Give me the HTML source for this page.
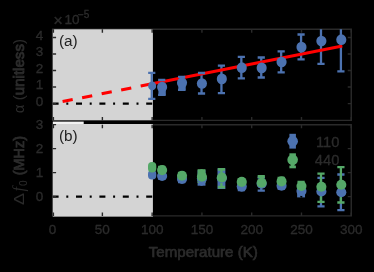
<!DOCTYPE html><html><head><meta charset="utf-8"><style>html,body{margin:0;padding:0;background:#000;overflow:hidden;}svg{display:block;font-family:"Liberation Sans",sans-serif;}</style></head><body>
<svg width="374" height="272" viewBox="0 0 374 272">
<rect width="374" height="272" fill="#000"/>
<defs><clipPath id="ca"><rect x="52.6" y="29.3" width="298.65000000000003" height="91.10000000000001"/></clipPath><clipPath id="cb"><rect x="52.6" y="124.7" width="298.65000000000003" height="91.2"/></clipPath></defs>
<path d="M52.6 29.3H351.25000000000006V120.4H52.6Z" stroke="#2a2a2a" stroke-width="1.4" fill="none"/>
<path d="M52.6 124.7H351.25000000000006V215.9H52.6Z" stroke="#2a2a2a" stroke-width="1.4" fill="none"/>
<rect x="52.8" y="29.3" width="100.1" height="90.85" fill="#d4d4d4"/>
<rect x="52.8" y="124.0" width="100.1" height="92.60" fill="#d4d4d4"/>
<rect x="52.8" y="121.6" width="30.90" height="2.4" fill="#f2f2f2"/>
<g clip-path="url(#ca)">
<path d="M52.6 103.6H351.25000000000006" stroke="#000" stroke-width="2.3" stroke-dasharray="6 7.7 2 7.7" fill="none"/>
<path d="M151.75 72.90V98.80" stroke="#4c72b0" stroke-width="2.3" fill="none"/>
<path d="M161.71 80.00V94.80" stroke="#4c72b0" stroke-width="2.3" fill="none"/>
<path d="M181.62 76.90V89.80" stroke="#4c72b0" stroke-width="2.3" fill="none"/>
<path d="M201.53 73.00V93.50" stroke="#4c72b0" stroke-width="2.3" fill="none"/>
<path d="M221.44 65.60V93.20" stroke="#4c72b0" stroke-width="2.3" fill="none"/>
<path d="M241.34 56.90V78.40" stroke="#4c72b0" stroke-width="2.3" fill="none"/>
<path d="M261.26 57.50V77.50" stroke="#4c72b0" stroke-width="2.3" fill="none"/>
<path d="M281.17 51.40V72.30" stroke="#4c72b0" stroke-width="2.3" fill="none"/>
<path d="M301.08 34.50V59.30" stroke="#4c72b0" stroke-width="2.3" fill="none"/>
<path d="M320.99 20.00V63.90" stroke="#4c72b0" stroke-width="2.3" fill="none"/>
<path d="M340.90 15.00V71.40" stroke="#4c72b0" stroke-width="2.3" fill="none"/>
<path d="M62.6 101.56L152.15 83.77" stroke="#ff0000" stroke-width="3" stroke-dasharray="10.3 9.6" fill="none"/>
<path d="M152.15 83.77L342.3 46.01" stroke="#ff0000" stroke-width="3" fill="none"/>
<path d="M148.15 72.90H155.35M148.15 98.80H155.35" stroke="#4c72b0" stroke-width="2.3" fill="none"/><ellipse cx="152.15" cy="85.90" rx="4.0" ry="4.3" fill="#4c72b0"/>
<path d="M158.11 80.00H165.31M158.11 94.80H165.31" stroke="#4c72b0" stroke-width="2.3" fill="none"/><ellipse cx="162.11" cy="87.00" rx="5.05" ry="5.35" fill="#4c72b0"/>
<rect x="158.41" y="87.00" width="7.4" height="8.70" fill="#4c72b0"/>
<path d="M178.02 76.90H185.22M178.02 89.80H185.22" stroke="#4c72b0" stroke-width="2.3" fill="none"/><ellipse cx="182.02" cy="82.70" rx="5.05" ry="5.35" fill="#4c72b0"/>
<rect x="178.32" y="82.70" width="7.4" height="8.00" fill="#4c72b0"/>
<path d="M197.93 73.00H205.12M197.93 93.50H205.12" stroke="#4c72b0" stroke-width="2.3" fill="none"/><ellipse cx="201.93" cy="83.50" rx="5.05" ry="5.35" fill="#4c72b0"/>
<path d="M217.84 65.60H225.03M217.84 93.20H225.03" stroke="#4c72b0" stroke-width="2.3" fill="none"/><ellipse cx="221.84" cy="78.90" rx="5.05" ry="5.35" fill="#4c72b0"/>
<path d="M237.75 56.90H244.94M237.75 78.40H244.94" stroke="#4c72b0" stroke-width="2.3" fill="none"/><ellipse cx="241.75" cy="67.70" rx="5.05" ry="5.35" fill="#4c72b0"/>
<path d="M257.66 57.50H264.86M257.66 77.50H264.86" stroke="#4c72b0" stroke-width="2.3" fill="none"/><ellipse cx="261.66" cy="67.90" rx="5.05" ry="5.35" fill="#4c72b0"/>
<path d="M277.56 51.40H284.77M277.56 72.30H284.77" stroke="#4c72b0" stroke-width="2.3" fill="none"/><ellipse cx="281.56" cy="62.00" rx="5.05" ry="5.35" fill="#4c72b0"/>
<path d="M297.48 34.50H304.68M297.48 59.30H304.68" stroke="#4c72b0" stroke-width="2.3" fill="none"/><ellipse cx="301.48" cy="47.10" rx="5.05" ry="5.35" fill="#4c72b0"/>
<path d="M317.39 20.00H324.59M317.39 63.90H324.59" stroke="#4c72b0" stroke-width="2.3" fill="none"/><ellipse cx="321.39" cy="41.00" rx="5.05" ry="5.35" fill="#4c72b0"/>
<path d="M337.30 15.00H344.50M337.30 71.40H344.50" stroke="#4c72b0" stroke-width="2.3" fill="none"/><ellipse cx="341.30" cy="39.70" rx="5.05" ry="5.35" fill="#4c72b0"/>
</g>
<g clip-path="url(#cb)">

<path d="M161.71 173.50V178.50" stroke="#4c72b0" stroke-width="2.3" fill="none"/><path d="M158.11 173.50H165.31M158.11 178.50H165.31" stroke="#4c72b0" stroke-width="2.3" fill="none"/>
<path d="M181.62 176.00V182.00" stroke="#4c72b0" stroke-width="2.3" fill="none"/><path d="M178.02 176.00H185.22M178.02 182.00H185.22" stroke="#4c72b0" stroke-width="2.3" fill="none"/>
<path d="M201.53 170.20V185.70" stroke="#4c72b0" stroke-width="2.3" fill="none"/><rect x="197.58" y="170.20" width="7.9" height="15.50" fill="#4c72b0"/>
<path d="M221.44 168.30V189.00" stroke="#4c72b0" stroke-width="2.3" fill="none"/><rect x="217.49" y="168.30" width="7.9" height="20.70" fill="#4c72b0"/>
<path d="M241.34 183.00V190.00" stroke="#4c72b0" stroke-width="2.3" fill="none"/><path d="M237.75 183.00H244.94M237.75 190.00H244.94" stroke="#4c72b0" stroke-width="2.3" fill="none"/>
<path d="M261.26 177.60V190.70" stroke="#4c72b0" stroke-width="2.3" fill="none"/><path d="M257.66 177.60H264.86M257.66 190.70H264.86" stroke="#4c72b0" stroke-width="2.3" fill="none"/>
<path d="M281.17 183.00V188.60" stroke="#4c72b0" stroke-width="2.3" fill="none"/><path d="M277.56 183.00H284.77M277.56 188.60H284.77" stroke="#4c72b0" stroke-width="2.3" fill="none"/>
<path d="M301.08 186.00V197.40" stroke="#4c72b0" stroke-width="2.3" fill="none"/><rect x="297.13" y="186.00" width="7.9" height="11.40" fill="#4c72b0"/>
<path d="M320.99 177.80V206.30" stroke="#4c72b0" stroke-width="2.3" fill="none"/><path d="M317.39 177.80H324.59M317.39 206.30H324.59" stroke="#4c72b0" stroke-width="2.3" fill="none"/>
<path d="M340.90 174.50V210.20" stroke="#4c72b0" stroke-width="2.3" fill="none"/><path d="M337.30 174.50H344.50M337.30 210.20H344.50" stroke="#4c72b0" stroke-width="2.3" fill="none"/>
<path d="M52.6 196.6H351.25000000000006" stroke="#000" stroke-width="2.3" stroke-dasharray="6 7.7 2 7.7" fill="none"/>

<path d="M161.71 167.00V173.50" stroke="#55a868" stroke-width="2.3" fill="none"/><path d="M158.11 167.00H165.31M158.11 173.50H165.31" stroke="#55a868" stroke-width="2.3" fill="none"/>
<path d="M181.62 173.00V178.80" stroke="#55a868" stroke-width="2.3" fill="none"/><path d="M178.02 173.00H185.22M178.02 178.80H185.22" stroke="#55a868" stroke-width="2.3" fill="none"/>
<path d="M201.53 169.20V183.00" stroke="#55a868" stroke-width="2.3" fill="none"/><rect x="197.58" y="169.20" width="7.9" height="13.80" fill="#55a868"/>
<path d="M221.44 169.40V187.20" stroke="#55a868" stroke-width="2.3" fill="none"/><path d="M217.84 169.40H225.03M217.84 187.20H225.03" stroke="#55a868" stroke-width="2.8" fill="none"/>
<path d="M241.34 179.50V185.20" stroke="#55a868" stroke-width="2.3" fill="none"/><path d="M237.75 179.50H244.94M237.75 185.20H244.94" stroke="#55a868" stroke-width="2.3" fill="none"/>
<path d="M261.26 176.50V185.50" stroke="#55a868" stroke-width="2.3" fill="none"/><path d="M257.66 176.50H264.86M257.66 185.50H264.86" stroke="#55a868" stroke-width="2.8" fill="none"/>
<path d="M281.17 178.00V184.80" stroke="#55a868" stroke-width="2.3" fill="none"/><path d="M277.56 178.00H284.77M277.56 184.80H284.77" stroke="#55a868" stroke-width="2.3" fill="none"/>
<path d="M301.08 181.80V190.40" stroke="#55a868" stroke-width="2.3" fill="none"/><path d="M297.48 181.80H304.68M297.48 190.40H304.68" stroke="#55a868" stroke-width="2.3" fill="none"/>
<path d="M320.99 173.70V201.90" stroke="#55a868" stroke-width="2.3" fill="none"/><path d="M317.39 173.70H324.59M317.39 201.90H324.59" stroke="#55a868" stroke-width="2.3" fill="none"/>
<path d="M340.90 167.20V202.50" stroke="#55a868" stroke-width="2.3" fill="none"/><path d="M337.30 167.20H344.50M337.30 202.50H344.50" stroke="#55a868" stroke-width="2.3" fill="none"/>
<rect x="148.00" y="170.0" width="8.3" height="9.40" rx="3.9" fill="#4c72b0"/>
<circle cx="162.11" cy="176.00" r="5.05" fill="#4c72b0"/>
<circle cx="182.02" cy="179.00" r="5.05" fill="#4c72b0"/>
<circle cx="201.93" cy="178.60" r="5.05" fill="#4c72b0"/>
<circle cx="221.84" cy="178.30" r="5.05" fill="#4c72b0"/>
<circle cx="241.75" cy="186.60" r="5.05" fill="#4c72b0"/>
<circle cx="261.66" cy="183.80" r="5.05" fill="#4c72b0"/>
<circle cx="281.56" cy="185.70" r="5.05" fill="#4c72b0"/>
<circle cx="301.48" cy="191.00" r="5.05" fill="#4c72b0"/>
<circle cx="321.39" cy="191.50" r="5.05" fill="#4c72b0"/>
<circle cx="341.30" cy="192.30" r="5.05" fill="#4c72b0"/>
<rect x="148.00" y="162.0" width="8.3" height="10.40" rx="3.9" fill="#55a868"/>
<circle cx="162.11" cy="170.10" r="5.05" fill="#55a868"/>
<circle cx="182.02" cy="175.80" r="5.05" fill="#55a868"/>
<circle cx="201.93" cy="176.70" r="5.05" fill="#55a868"/>
<circle cx="221.84" cy="177.50" r="5.05" fill="#55a868"/>
<circle cx="241.75" cy="181.90" r="5.05" fill="#55a868"/>
<circle cx="261.66" cy="182.70" r="5.05" fill="#55a868"/>
<circle cx="281.56" cy="181.40" r="5.05" fill="#55a868"/>
<circle cx="301.48" cy="186.00" r="5.05" fill="#55a868"/>
<circle cx="321.39" cy="186.70" r="5.05" fill="#55a868"/>
<circle cx="341.30" cy="184.70" r="5.05" fill="#55a868"/>
<rect x="289.4" y="133.8" width="6.5" height="14.8" fill="#4c72b0"/><circle cx="292.65" cy="141.3" r="5.3" fill="#4c72b0"/>
<rect x="289.4" y="153.3" width="6.5" height="4" fill="#55a868"/><circle cx="292.65" cy="159.8" r="5.3" fill="#55a868"/><rect x="290.8" y="163" width="3.7" height="4" fill="#55a868"/><rect x="289.4" y="165.6" width="6.5" height="2.7" fill="#55a868"/>
</g>
<path d="M53.40 120.4v-3.5M53.40 29.3v3.5M102.38 120.4v-3.5M102.38 29.3v3.5M152.15 120.4v-3.5M152.15 29.3v3.5M201.93 120.4v-3.5M201.93 29.3v3.5M251.70 120.4v-3.5M251.70 29.3v3.5M301.48 120.4v-3.5M301.48 29.3v3.5M351.25 120.4v-3.5M351.25 29.3v3.5M52.6 103.60h3.5M351.25000000000006 103.60h-3.5M52.6 87.07h3.5M351.25000000000006 87.07h-3.5M52.6 70.54h3.5M351.25000000000006 70.54h-3.5M52.6 54.01h3.5M351.25000000000006 54.01h-3.5M52.6 37.48h3.5M351.25000000000006 37.48h-3.5" stroke="#2a2a2a" stroke-width="1.4" fill="none"/>
<path d="M53.40 215.9v-3.5M53.40 124.7v3.5M102.38 215.9v-3.5M102.38 124.7v3.5M152.15 215.9v-3.5M152.15 124.7v3.5M201.93 215.9v-3.5M201.93 124.7v3.5M251.70 215.9v-3.5M251.70 124.7v3.5M301.48 215.9v-3.5M301.48 124.7v3.5M351.25 215.9v-3.5M351.25 124.7v3.5M52.6 196.60h3.5M351.25000000000006 196.60h-3.5M52.6 172.60h3.5M351.25000000000006 172.60h-3.5M52.6 148.60h3.5M351.25000000000006 148.60h-3.5M52.6 124.60h3.5M351.25000000000006 124.60h-3.5" stroke="#2a2a2a" stroke-width="1.4" fill="none"/>
<defs><filter id="bl" x="-5%" y="-5%" width="110%" height="110%"><feGaussianBlur stdDeviation="0.35"/></filter></defs>
<g filter="url(#bl)">
<g fill="#2b2b2b" font-size="13.5px" stroke="#2b2b2b" stroke-width="0.35">
<text x="43.2" y="106.00" text-anchor="end">0</text>
<text x="43.2" y="89.47" text-anchor="end">1</text>
<text x="43.2" y="72.94" text-anchor="end">2</text>
<text x="43.2" y="56.41" text-anchor="end">3</text>
<text x="43.2" y="39.88" text-anchor="end">4</text>
<text x="43.2" y="200.50" text-anchor="end">0</text>
<text x="43.2" y="176.50" text-anchor="end">1</text>
<text x="43.2" y="152.50" text-anchor="end">2</text>
<text x="43.2" y="128.50" text-anchor="end">3</text>
<text x="52.60" y="233.5" text-anchor="middle">0</text>
<text x="102.38" y="233.5" text-anchor="middle">50</text>
<text x="152.15" y="233.5" text-anchor="middle">100</text>
<text x="201.93" y="233.5" text-anchor="middle">150</text>
<text x="251.70" y="233.5" text-anchor="middle">200</text>
<text x="301.48" y="233.5" text-anchor="middle">250</text>
<text x="351.25" y="233.5" text-anchor="middle">300</text>
<text x="53.3" y="25.6" font-size="16.5px">×</text><text x="64.5" y="23.8">10<tspan font-size="10px" dx="-1.6" dy="-6.3">−5</tspan></text>
<text x="339.3" y="147.3" text-anchor="end" font-size="14.67px">110</text>
<text x="339.3" y="165.1" text-anchor="end" font-size="14.67px">440</text>
</g>
<g fill="#222" font-size="15.3px">
<text x="58.9" y="45.7">(a)</text>
<text x="58.9" y="141.1">(b)</text>
</g>
<g fill="#2b2b2b" font-size="15.1px">
<text x="203.3" y="256.9" text-anchor="middle" stroke="#2b2b2b" stroke-width="0.7">Temperature (K)</text>
<text transform="translate(24.0 76.1) rotate(-90)" text-anchor="middle"><tspan>α (</tspan><tspan stroke="#2b2b2b" stroke-width="0.9">unitless</tspan><tspan>)</tspan></text>
<g transform="translate(23.8 204.8) rotate(-90)"><text x="0" y="0" transform="translate(-0.3 0) scale(1.2 1)">Δ</text><text x="13.3" y="0" font-family="Liberation Serif" font-style="italic" font-size="16px">f</text><text x="18.8" y="3.6" font-size="10.2px">0</text><text x="29.6" y="0" font-size="14.4px" stroke="#2b2b2b" stroke-width="0.8">(MHz)</text></g>
</g>
</g>
</svg></body></html>
